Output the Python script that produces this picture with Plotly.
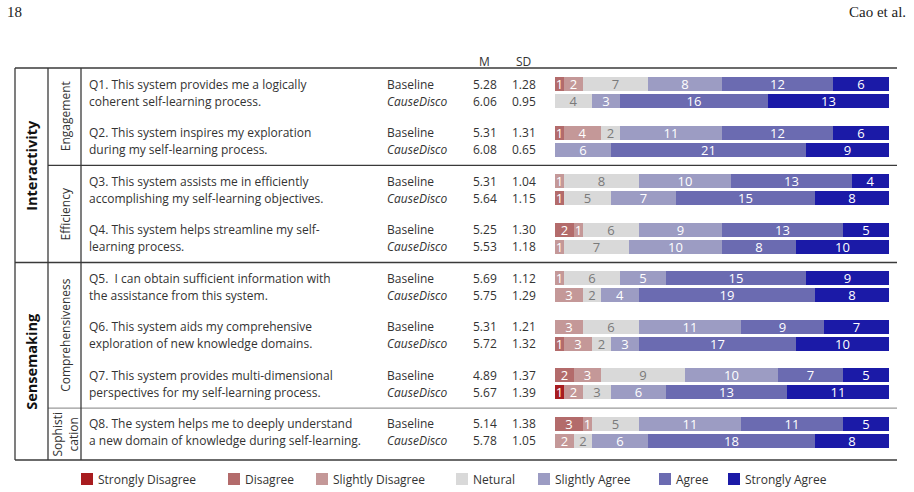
import plotly.graph_objects as go

# ---------------- data ----------------
categories = ["Strongly Disagree", "Disagree", "Slightly Disagree", "Netural",
              "Slightly Agree", "Agree", "Strongly Agree"]
colors = ["#a81c1f", "#b36b6b", "#c49898", "#d9d9d9", "#9c9cc3", "#6b6bb1", "#1b1aa7"]

conditions = ["Baseline", "CauseDisco"]

question_line1 = [
    "Q1. This system provides me a logically",
    "Q2. This system inspires my exploration",
    "Q3. This system assists me in efficiently",
    "Q4. This system helps streamline my self-",
    "Q5.\u00a0 I can obtain sufficient information with",
    "Q6. This system aids my comprehensive",
    "Q7. This system provides multi-dimensional",
    "Q8. The system helps me to deeply understand",
]
question_line2 = [
    "coherent self-learning process.",
    "during my self-learning process.",
    "accomplishing my self-learning objectives.",
    "learning process.",
    "the assistance from this system.",
    "exploration of new knowledge domains.",
    "perspectives for my self-learning process.",
    "a new domain of knowledge during self-learning.",
]

# counts per question, order = categories
baseline_counts = [
    [0, 1, 2, 7, 8, 12, 6],
    [0, 1, 4, 2, 11, 12, 6],
    [0, 0, 1, 8, 10, 13, 4],
    [0, 2, 1, 6, 9, 13, 5],
    [0, 0, 1, 6, 5, 15, 9],
    [0, 0, 3, 6, 11, 9, 7],
    [0, 2, 3, 9, 10, 7, 5],
    [0, 3, 1, 5, 11, 11, 5],
]
causedisco_counts = [
    [0, 0, 0, 4, 3, 16, 13],
    [0, 0, 0, 0, 6, 21, 9],
    [0, 1, 0, 5, 7, 15, 8],
    [0, 0, 1, 7, 10, 8, 10],
    [0, 0, 3, 2, 4, 19, 8],
    [0, 1, 3, 2, 3, 17, 10],
    [1, 0, 2, 3, 6, 13, 11],
    [0, 0, 2, 2, 6, 18, 8],
]
baseline_mean = ["5.28", "5.31", "5.31", "5.25", "5.69", "5.31", "4.89", "5.14"]
baseline_sd = ["1.28", "1.31", "1.04", "1.30", "1.12", "1.21", "1.37", "1.38"]
causedisco_mean = ["6.06", "6.08", "5.64", "5.53", "5.75", "5.72", "5.67", "5.78"]
causedisco_sd = ["0.95", "0.65", "1.15", "1.18", "1.29", "1.32", "1.39", "1.05"]

dimensions = ["Interactivity", "Sensemaking"]
dimension_span = [(0, 3), (4, 7)]
subdims = ["Engagement", "Efficiency", "Comprehensiveness", "Sophisti<br>cation"]
subdim_span = [(0, 1), (2, 3), (4, 6), (7, 7)]

N = 36

# ---------------- layout constants (pixels) ----------------
W, H = 914, 492
Y0, STEP, PAIR = 84.0, 48.57, 17.0
BAR_X0, BAR_X1 = 555, 889
TOP, BOTTOM = 68, 460
RIGHT = 897
COL0, COL1, COL2 = 15, 48, 81
TXT = "#333333"
FONT = "Open Sans"
FS = 12


def qy(q, c=0):
    return Y0 + STEP * q + PAIR * c


def top_of(q):
    return qy(q) - 16 if q == 0 else (qy(q - 1, 1) + qy(q)) / 2


def bottom_of(q):
    return qy(q, 1) + 19 if q == len(question_line1) - 1 else (qy(q, 1) + qy(q + 1)) / 2


fig = go.Figure()

ys = []
for q in range(len(question_line1)):
    ys += [qy(q, 0), qy(q, 1)]

for k, cat in enumerate(categories):
    xs, texts = [], []
    for q in range(len(question_line1)):
        for counts in (baseline_counts, causedisco_counts):
            v = counts[q][k]
            xs.append(v)
            texts.append(str(v) if v > 0 else "")
    fig.add_trace(go.Bar(
        x=xs, y=ys, orientation="h", width=14, name=cat,
        marker=dict(color=colors[k], line=dict(width=0)),
        text=texts, textposition="inside", insidetextanchor="middle",
        textangle=0, constraintext="none",
        textfont=dict(family=FONT, size=13,
                      color="#7a7a7a" if cat == "Netural" else "#ffffff"),
        hoverinfo="skip", showlegend=False,
    ))

fig.update_layout(
    width=W, height=H, margin=dict(l=0, r=0, t=0, b=0),
    paper_bgcolor="white", plot_bgcolor="white",
    barmode="stack", bargap=0,
    uniformtext=dict(minsize=13, mode="show"),
    xaxis=dict(domain=[BAR_X0 / W, BAR_X1 / W], range=[0, N], visible=False, fixedrange=True),
    yaxis=dict(domain=[0, 1], range=[H, 0], visible=False, fixedrange=True),
    showlegend=False,
)

anns = []
shapes = []


def text(x, y, s, size=FS, anchor="left", color=TXT, family=FONT, angle=0, bold=False, italic=False):
    if bold:
        s = "<b>" + s + "</b>"
    if italic:
        s = "<i>" + s + "</i>"
    anns.append(dict(x=x / W, y=y, xref="paper", yref="y", text=s, showarrow=False,
                     xanchor=anchor, yanchor="middle", textangle=angle,
                     borderpad=0, borderwidth=0,
                     font=dict(family=family, size=size, color=color)))


def hline(x0, x1, y, color="#3a3a3a", width=1.3):
    shapes.append(dict(type="line", xref="paper", yref="y", x0=x0 / W, x1=x1 / W, y0=y, y1=y,
                       line=dict(color=color, width=width)))


def vline(x, y0, y1, color="#3a3a3a", width=1.3):
    shapes.append(dict(type="line", xref="paper", yref="y", x0=x / W, x1=x / W, y0=y0, y1=y1,
                       line=dict(color=color, width=width)))


# page header
text(7, 12, "18", size=15, family="Liberation Serif", color="#222222")
text(906, 12, "Cao et al.", size=15, anchor="right", family="Liberation Serif", color="#222222")

# column headers
text(484, 61, "M", size=FS, anchor="center")
text(523, 61, "SD", size=FS, anchor="center")

# rows
for q in range(len(question_line1)):
    text(89, qy(q, 0), question_line1[q])
    text(89, qy(q, 1), question_line2[q])
    text(387, qy(q, 0), conditions[0])
    text(387, qy(q, 1), conditions[1], italic=True)
    text(497, qy(q, 0), baseline_mean[q], anchor="right")
    text(497, qy(q, 1), causedisco_mean[q], anchor="right")
    text(536, qy(q, 0), baseline_sd[q], anchor="right")
    text(536, qy(q, 1), causedisco_sd[q], anchor="right")

# grouping labels
for name, (a, b) in zip(dimensions, dimension_span):
    text((COL0 + COL1) / 2, (top_of(a) + bottom_of(b)) / 2, name, size=14.5, anchor="center",
         angle=-90, bold=True, color="#111111")
for name, (a, b) in zip(subdims, subdim_span):
    text((COL1 + COL2) / 2 + 1, (top_of(a) + bottom_of(b)) / 2, name, size=FS, anchor="center",
         angle=-90)

# table rules
hline(COL0, RIGHT, TOP)
hline(COL0, RIGHT, BOTTOM)
hline(COL1, RIGHT, bottom_of(1))
hline(COL0, RIGHT, bottom_of(3))
hline(COL1, RIGHT, bottom_of(6), color="#9a9a9a")
for x in (COL0, COL1, COL2):
    vline(x, TOP, BOTTOM)

# legend
LEGEND_X = [81, 228, 316, 456, 538, 659, 728]
for k, cat in enumerate(categories):
    x = LEGEND_X[k]
    shapes.append(dict(type="rect", xref="paper", yref="y", x0=x / W, x1=(x + 12) / W,
                       y0=473, y1=485, fillcolor=colors[k], line=dict(width=0)))
    text(x + 17, 479, cat)

fig.update_layout(annotations=anns, shapes=shapes)
fig.write_html("out.html")
